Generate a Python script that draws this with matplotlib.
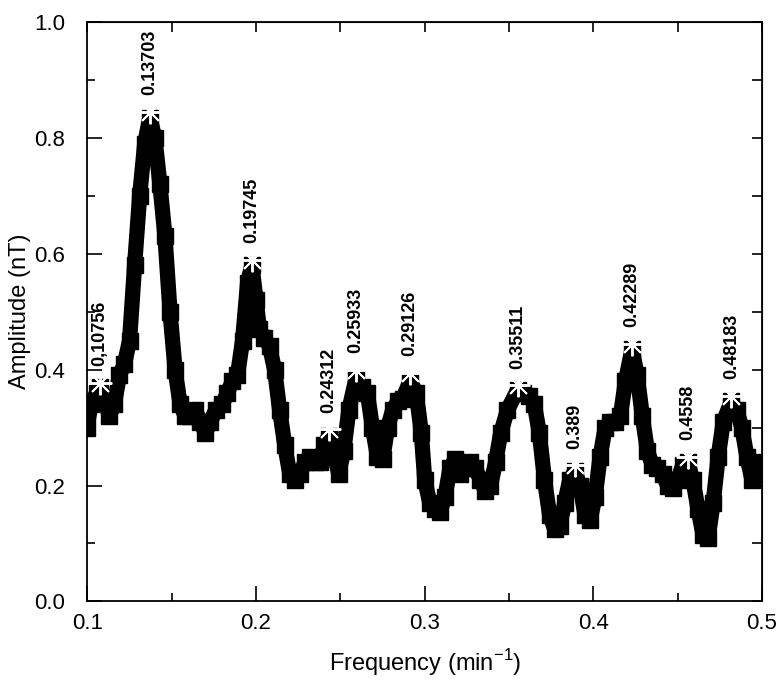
import numpy as np
import matplotlib.pyplot as plt
from matplotlib.ticker import MultipleLocator, FormatStrFormatter

plt.rcParams['font.family'] = ['Liberation Sans', 'DejaVu Sans']

# spectrum
freq = [0.100, 0.102, 0.1055, 0.1076, 0.110, 0.113, 0.116, 0.119, 0.122, 0.125,
        0.128, 0.131, 0.134, 0.137, 0.140, 0.143, 0.146, 0.149, 0.152, 0.155,
        0.158, 0.161, 0.164, 0.167, 0.170, 0.173, 0.176, 0.180, 0.183, 0.186,
        0.189, 0.192, 0.195, 0.1975, 0.200, 0.202, 0.205, 0.208, 0.211, 0.214,
        0.217, 0.220, 0.223, 0.226, 0.229, 0.232, 0.235, 0.238, 0.2405, 0.2431,
        0.246, 0.249, 0.252, 0.255, 0.2593, 0.263, 0.266, 0.269, 0.272, 0.275,
        0.278, 0.281, 0.284, 0.287, 0.2913, 0.295, 0.298, 0.300, 0.303, 0.306,
        0.309, 0.312, 0.315, 0.318, 0.321, 0.324, 0.327, 0.330, 0.333, 0.336,
        0.339, 0.342, 0.345, 0.349, 0.3551, 0.358, 0.362, 0.365, 0.368, 0.371,
        0.374, 0.377, 0.380, 0.383, 0.386, 0.389, 0.392, 0.395, 0.398, 0.401,
        0.404, 0.407, 0.410, 0.413, 0.416, 0.419, 0.4229, 0.426, 0.429, 0.432,
        0.435, 0.438, 0.441, 0.444, 0.447, 0.450, 0.453, 0.4558, 0.459, 0.462,
        0.465, 0.468, 0.471, 0.474, 0.477, 0.4818, 0.485, 0.488, 0.491, 0.494,
        0.497, 0.500]
amp = [0.30, 0.34, 0.36, 0.37, 0.35, 0.32, 0.34, 0.39, 0.41, 0.45,
       0.58, 0.70, 0.79, 0.835, 0.80, 0.72, 0.63, 0.50, 0.40, 0.34,
       0.32, 0.32, 0.33, 0.31, 0.29, 0.31, 0.33, 0.34, 0.36, 0.38,
       0.39, 0.45, 0.55, 0.58, 0.52, 0.47, 0.455, 0.44, 0.40, 0.33,
       0.27, 0.22, 0.21, 0.22, 0.24, 0.25, 0.24, 0.24, 0.27, 0.285,
       0.26, 0.22, 0.26, 0.33, 0.385, 0.37, 0.36, 0.30, 0.25, 0.245,
       0.30, 0.33, 0.345, 0.35, 0.38, 0.36, 0.29, 0.21, 0.17, 0.16,
       0.155, 0.18, 0.23, 0.245, 0.22, 0.23, 0.24, 0.23, 0.21, 0.19,
       0.20, 0.24, 0.29, 0.33, 0.365, 0.36, 0.355, 0.34, 0.29, 0.21,
       0.15, 0.125, 0.13, 0.17, 0.21, 0.225, 0.20, 0.15, 0.14, 0.18,
       0.25, 0.30, 0.31, 0.31, 0.32, 0.38, 0.435, 0.39, 0.32, 0.26,
       0.235, 0.23, 0.22, 0.20, 0.195, 0.21, 0.235, 0.24, 0.21, 0.16,
       0.115, 0.11, 0.17, 0.25, 0.31, 0.345, 0.33, 0.30, 0.25, 0.21,
       0.22, 0.24]

# labelled peaks
peak_freq = [0.10756, 0.13703, 0.19745, 0.24312, 0.25933, 0.29126,
             0.35511, 0.389, 0.42289, 0.4558, 0.48183]
peak_amp = [0.377, 0.845, 0.59, 0.297, 0.40, 0.395, 0.373, 0.235, 0.445, 0.25, 0.355]
peak_labels = ['0,10756', '0.13703', '0.19745', '0.24312', '0.25933', '0.29126',
               '0.35511', '0.389', '0.42289', '0.4558', '0.48183']

fig = plt.figure(figsize=(7.8, 6.85), dpi=100)
ax = fig.add_axes([0.112, 0.122, 0.865, 0.846])

ax.plot(freq, amp, color='black', lw=11, marker='s', ms=11, mec='black',
        solid_joinstyle='round', solid_capstyle='butt')
ax.plot(peak_freq, peak_amp, ls='none', marker=(8, 2, 0), ms=17, mew=1.4,
        color='white', zorder=5)

for f, a, lab in zip(peak_freq, peak_amp, peak_labels):
    ax.annotate(lab, (f, a), xytext=(0, 12), textcoords='offset points',
                rotation=90, ha='center', va='bottom', fontsize=13,
                fontweight='bold')

ax.set_xlim(0.1, 0.5)
ax.set_ylim(0.0, 1.0)
ax.xaxis.set_major_locator(MultipleLocator(0.1))
ax.xaxis.set_minor_locator(MultipleLocator(0.05))
ax.yaxis.set_major_locator(MultipleLocator(0.2))
ax.yaxis.set_minor_locator(MultipleLocator(0.1))
ax.xaxis.set_major_formatter(FormatStrFormatter('%.1f'))
ax.yaxis.set_major_formatter(FormatStrFormatter('%.1f'))
ax.tick_params(which='major', direction='in', length=11, width=1.2, labelsize=16)
ax.tick_params(which='minor', direction='in', length=6, width=1.2)
ax.tick_params(axis='x', pad=8)
ax.tick_params(axis='y', pad=16)

top = ax.secondary_xaxis('top')
top.set_xticks(np.arange(0.1, 0.501, 0.05))
top.tick_params(direction='in', length=7, width=1.2, labeltop=False)
right = ax.secondary_yaxis('right')
right.set_yticks(np.arange(0.0, 1.001, 0.1))
right.tick_params(direction='in', length=7, width=1.2, labelright=False)

for sp in ax.spines.values():
    sp.set_linewidth(1.3)

ax.set_xlabel('Frequency (min$^{\\mathregular{-1}}$)', fontsize=17, labelpad=10)
ax.set_ylabel('Amplitude (nT)', fontsize=17, labelpad=2)

fig.savefig('out.png', dpi=100)
